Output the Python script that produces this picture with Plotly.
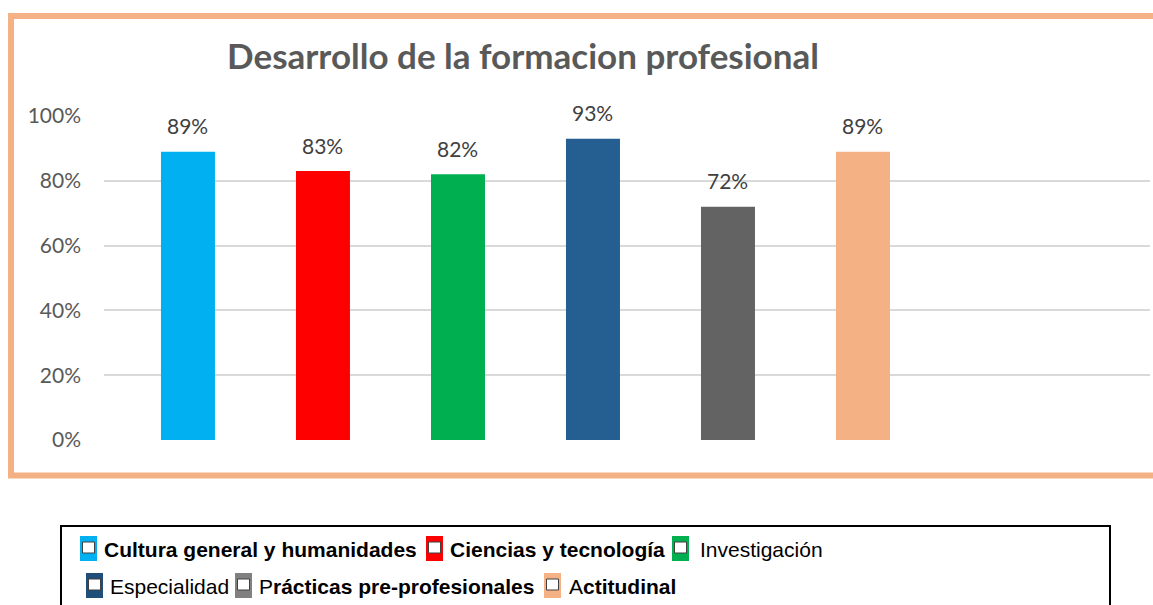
import plotly.graph_objects as go

# data
categories = [
    "Cultura general y humanidades",
    "Ciencias y tecnología",
    "Investigación",
    "Especialidad",
    "Prácticas pre-profesionales",
    "Actitudinal",
]
values = [0.89, 0.83, 0.82, 0.93, 0.72, 0.89]
bar_colors = ["#00B0F0", "#FF0000", "#00B050", "#255E91", "#636363", "#F4B183"]
legend_labels = [
    "<b>Cultura general y humanidades</b>",
    "<b>Ciencias y tecnología</b>",
    "Investigación",
    "Especialidad",
    "P<b>rácticas pre-profesionales</b>",
    "A<b>ctitudinal</b>",
]
legend_colors = ["#00B0F0", "#FF0000", "#00B050", "#1F4E79", "#808080", "#F4B183"]
y_ticks = [0, 0.2, 0.4, 0.6, 0.8, 1.0]

W, H = 1153, 605
L, R, T, B = 104, 3, 116, 165
PW, PH = W - L - R, H - T - B


def px(x):
    return (x - L) / PW


def py(y):
    return (H - B - y) / PH


fig = go.Figure()
fig.add_trace(
    go.Bar(
        x=categories,
        y=values,
        marker=dict(color=bar_colors, line=dict(width=0)),
        width=0.4,
        showlegend=False,
        hoverinfo="x+y",
    )
)

for c, v in zip(categories, values):
    fig.add_annotation(
        x=c, y=v, text=f"{v:.0%}", showarrow=False, yshift=26,
        font=dict(family="Lato", size=21, color="#404040"),
    )

shapes = [
    # orange frame around the chart
    dict(type="rect", xref="paper", yref="paper",
         x0=px(11), x1=px(1175), y0=py(16), y1=py(475.5),
         line=dict(color="#F4B183", width=6), layer="below"),
    # legend box
    dict(type="rect", xref="paper", yref="paper",
         x0=px(61), x1=px(1110), y0=py(526), y1=py(650),
         line=dict(color="#000000", width=2)),
]

# manual legend: icon left x, text left x, row top y
slots = [(80, 102, 536), (426, 448, 536), (672, 698, 536),
         (86, 108, 573), (235, 257, 573), (544, 567, 573)]
for (ix, tx, ty), lab, col in zip(slots, legend_labels, legend_colors):
    shapes.append(dict(type="rect", xref="paper", yref="paper",
                       x0=px(ix), x1=px(ix + 17), y0=py(ty), y1=py(ty + 25),
                       fillcolor=col, line=dict(width=0)))
    shapes.append(dict(type="rect", xref="paper", yref="paper",
                       x0=px(ix + 2.5), x1=px(ix + 14.5), y0=py(ty + 6), y1=py(ty + 17),
                       fillcolor="white", line=dict(color="#404040", width=1)))
    fig.add_annotation(
        xref="paper", yref="paper", x=px(tx), y=py(ty + 13), xanchor="left",
        yanchor="middle", text=lab, showarrow=False,
        font=dict(family="Liberation Sans", size=21, color="#000000"),
    )

fig.update_layout(
    width=W,
    height=H,
    margin=dict(l=L, r=R, t=T, b=B),
    paper_bgcolor="white",
    plot_bgcolor="white",
    shapes=shapes,
    title=dict(
        text="<b>Desarrollo de la formacion profesional</b>",
        x=523 / W, xref="container", xanchor="center",
        y=1 - 57 / H, yref="container", yanchor="middle",
        font=dict(family="Lato", size=35, color="#595959"),
    ),
    xaxis=dict(range=[-0.622, 7.126], showticklabels=False, showgrid=False,
               zeroline=False, showline=False),
    yaxis=dict(range=[0, 1], tickvals=y_ticks, tickformat=".0%",
               gridcolor="#D9D9D9", gridwidth=1.5, zeroline=False, showline=False,
               ticklabelstandoff=22,
               tickfont=dict(family="Lato", size=21, color="#595959")),
    bargap=0.6,
)

fig.write_html(
    "out.html",
    config={"displayModeBar": False},
    post_script="document.body.style.margin='0';",
)
